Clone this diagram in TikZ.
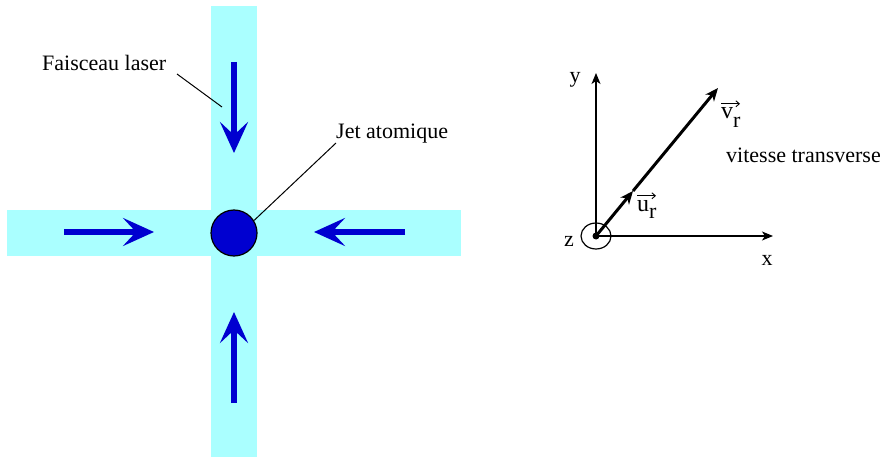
\documentclass[tikz,border=0pt]{standalone}
\usepackage{fontspec}
\setmainfont{Liberation Serif}
\usetikzlibrary{arrows.meta}
\definecolor{beamcyan}{RGB}{170,255,255}
\definecolor{atomblue}{RGB}{0,0,208}
\tikzset{
  txt/.style={inner sep=0pt, font=\fontsize{22}{26}\selectfont},
  beam/.style={fill=beamcyan, draw=none},
  push/.style={draw=atomblue, line width=6pt, -{Stealth[length=31pt,width=28pt,inset=13pt]}},
  axis/.style={draw=black, line width=1.4pt, -{Stealth[length=11pt,width=9pt,inset=3pt]}},
  vec/.style={draw=black, line width=3pt, -{Stealth[length=13pt,width=11pt,inset=4pt]}},
  vecmark/.style={draw=black, line width=0.9pt, -{Straight Barb[length=3.5pt,width=6pt]}},
  leader/.style={draw=black, line width=1pt}
}
\begin{document}
\begin{tikzpicture}[x=1pt,y=-1pt]
\useasboundingbox (0,0) rectangle (885,457);
% laser beams
\fill[beam] (211,6) rectangle (257,457);
\fill[beam] (7,210) rectangle (461,256);
% atom
\node[circle, fill=atomblue, draw=black, line width=1.2pt, minimum size=46pt, inner sep=0pt] (atom) at (234,233) {};
% arrows (pushing beams)
\coordinate (tA) at (234,62);  \coordinate (tB) at (234,153);
\coordinate (bA) at (234,403); \coordinate (bB) at (234,312);
\coordinate (lA) at (64,232);  \coordinate (lB) at (154,232);
\coordinate (rA) at (405,232); \coordinate (rB) at (314,232);
\draw[push] (tA) -- (tB);
\draw[push] (bA) -- (bB);
\draw[push] (lA) -- (lB);
\draw[push] (rA) -- (rB);
% labels
\node[txt, anchor=base west] (fl) at (42,71) {Faisceau laser};
\coordinate (flA) at (177,74);
\coordinate (flB) at (222,107);
\draw[leader] (flA) -- (flB);
\node[txt, anchor=base west] (jet) at (336,139) {Jet atomique};
\coordinate (jetA) at (336,143);
\draw[leader] (atom.32) -- (jetA);
% coordinate frame
\coordinate (O) at (596,236);
\coordinate (Y) at (596,73);
\coordinate (X) at (773,236);
\coordinate (U) at (633,191);
\coordinate (V) at (718,88);
\draw[line width=1.2pt] (O) ellipse [x radius=15, y radius=13];
\fill (O) circle (3.5);
\draw[axis] (O) -- (Y);
\draw[axis] (O) -- (X);
\draw[vec] (O) -- (U);
\draw[vec] (U) -- (V);
\node[txt] (ylab) at (575,80) {y};
\node[txt] (zlab) at (569,241) {z};
\node[txt] (xlab) at (767,260) {x};
% v_r
\node[txt, anchor=base west, font=\fontsize{24}{26}\selectfont] (vlab) at (721,119) {v};
\node[txt, anchor=base west] (vsub) at (733,128) {r};
\draw[vecmark] ([yshift=4pt]vlab.north west) -- ([yshift=4pt,xshift=19pt]vlab.north west);
\node[txt, anchor=west] (vt) at (726,155) {vitesse transverse};
% u_r
\node[txt, anchor=base west, font=\fontsize{24}{26}\selectfont] (ulab) at (637,211) {u};
\node[txt, anchor=base west] (usub) at (649,218) {r};
\draw[vecmark] ([yshift=4pt]ulab.north west) -- ([yshift=4pt,xshift=19pt]ulab.north west);
\end{tikzpicture}
\end{document}
